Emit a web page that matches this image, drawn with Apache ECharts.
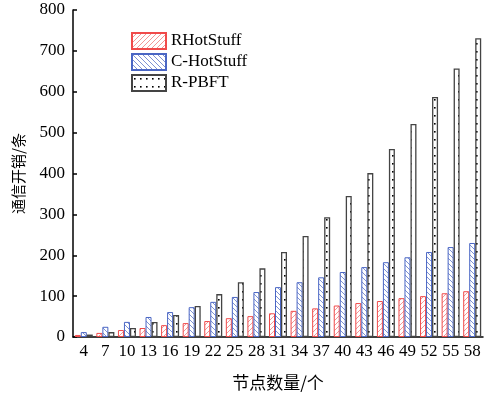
<!DOCTYPE html>
<html>
<head>
<meta charset="utf-8">
<script src="https://cdn.jsdelivr.net/npm/echarts@6/dist/echarts.min.js"></script>
<style>
  html, body { margin: 0; padding: 0; background: #fff; }
  #chart { width: 484px; height: 396px; }
</style>
</head>
<body>
<div id="chart"></div>
<script>
var nodes = ['4', '7', '10', '13', '16', '19', '22', '25', '28', '31', '34', '37', '40', '43', '46', '49', '52', '55', '58'];
var rHotStuff = [5, 10, 17, 22, 29, 34, 39, 46, 51, 58, 64, 70, 77, 83, 88, 95, 100, 107, 112];
var cHotStuff = [12, 25, 37, 49, 61, 73, 86, 98, 110, 122, 134, 146, 159, 171, 183, 195, 208, 220, 230];
var rPBFT = [6, 12, 22, 37, 54, 76, 105, 134, 168, 208, 247, 293, 345, 401, 460, 521, 587, 657, 731];
var yTicks = [0, 100, 200, 300, 400, 500, 600, 700, 800];

var serif = '"Liberation Serif", "DejaVu Serif", serif';
var cjk = '"Noto Sans CJK SC", sans-serif';

// hatch / dot fills
function hatch(color, dir) {
  var c = document.createElement('canvas');
  var s = 5;
  c.width = s; c.height = s;
  var ctx = c.getContext('2d');
  ctx.fillStyle = '#fff';
  ctx.fillRect(0, 0, s, s);
  ctx.strokeStyle = color;
  ctx.lineWidth = 0.9;
  ctx.beginPath();
  if (dir > 0) {
    ctx.moveTo(-1, s + 1); ctx.lineTo(s + 1, -1);
    ctx.moveTo(-1, 1); ctx.lineTo(1, -1);
    ctx.moveTo(s - 1, s + 1); ctx.lineTo(s + 1, s - 1);
  } else {
    ctx.moveTo(-1, -1); ctx.lineTo(s + 1, s + 1);
    ctx.moveTo(s - 1, -1); ctx.lineTo(s + 1, 1);
    ctx.moveTo(-1, s - 1); ctx.lineTo(1, s + 1);
  }
  ctx.stroke();
  return c;
}
function dots() {
  var c = document.createElement('canvas');
  c.width = 6; c.height = 8;
  var ctx = c.getContext('2d');
  ctx.fillStyle = '#fff';
  ctx.fillRect(0, 0, 6, 8);
  ctx.fillStyle = '#000';
  ctx.fillRect(2, 3, 1.6, 1.6);
  return c;
}

var chart = echarts.init(document.getElementById('chart'));

chart.setOption({
  backgroundColor: '#fff',
  animation: false,
  grid: { left: 73, right: 1, top: 10, bottom: 59 },
  legend: {
    orient: 'vertical',
    left: 126,
    top: 27,
    icon: 'rect',
    itemWidth: 34,
    itemHeight: 16,
    itemGap: 3,
    textStyle: { fontFamily: serif, fontSize: 17, color: '#000' },
    data: ['RHotStuff', 'C-HotStuff', 'R-PBFT']
  },
  xAxis: {
    type: 'category',
    data: nodes,
    name: '节点数量/个',
    nameLocation: 'middle',
    nameGap: 37,
    nameTextStyle: { fontFamily: cjk, fontSize: 17, color: '#000' },
    axisLine: { lineStyle: { color: '#000', width: 1.5 } },
    axisTick: { show: false },
    axisLabel: { fontFamily: serif, fontSize: 17, color: '#000', margin: 6, interval: 0 },
    splitLine: { show: false }
  },
  yAxis: {
    type: 'value',
    min: 0,
    max: 800,
    interval: 100,
    name: '通信开销/条',
    nameLocation: 'middle',
    nameGap: 47,
    nameTextStyle: { fontFamily: cjk, fontSize: 15, color: '#000' },
    axisLine: { show: true, lineStyle: { color: '#000', width: 1.5 } },
    axisTick: { show: true, inside: true, length: 4, lineStyle: { color: '#000', width: 1.5 } },
    axisLabel: {
      fontFamily: serif, fontSize: 17, color: '#000', margin: 8,
      formatter: function (v) { return yTicks.indexOf(v) >= 0 ? String(v) : ''; }
    },
    splitLine: { show: false }
  },
  series: [
    {
      name: 'RHotStuff',
      type: 'bar',
      data: rHotStuff,
      barWidth: 6,
      barGap: '0%',
      itemStyle: {
        color: { image: hatch('#f28b8b', 1), repeat: 'repeat' },
        borderColor: '#f04a4a',
        borderWidth: 1
      }
    },
    {
      name: 'C-HotStuff',
      type: 'bar',
      data: cHotStuff,
      barWidth: 6,
      barGap: '0%',
      itemStyle: {
        color: { image: hatch('#6f86cf', -1), repeat: 'repeat' },
        borderColor: '#4a66c4',
        borderWidth: 1
      }
    },
    {
      name: 'R-PBFT',
      type: 'bar',
      data: rPBFT,
      barWidth: 6,
      barGap: '0%',
      itemStyle: {
        color: { image: dots(), repeat: 'repeat' },
        borderColor: '#444',
        borderWidth: 1.3
      }
    }
  ]
});
</script>
</body>
</html>
